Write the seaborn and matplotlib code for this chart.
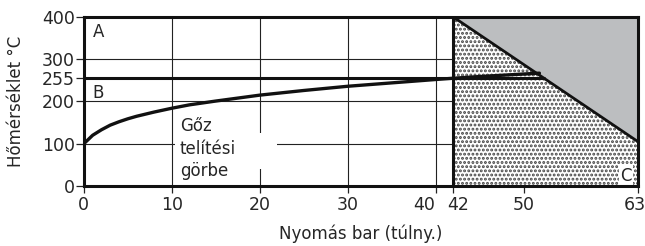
import matplotlib
matplotlib.use("Agg")
import matplotlib.pyplot as plt
import matplotlib.transforms as mtransforms
from matplotlib.patches import Polygon, Rectangle
import seaborn as sns
import pandas as pd

# --- data ---
pressure = [0, 1, 2, 3, 4, 5, 6, 8, 10, 12, 15, 20, 25, 30, 35, 40, 42, 45, 50, 51.8]
sat_temp = [100, 120, 133, 144, 152, 159, 165, 175, 184, 192, 201, 215, 226, 236, 244, 252, 255, 259, 265, 267]
limit_p = [42, 63]
limit_t = [400, 105]
x_ticks = [0, 10, 20, 30, 40, 42, 50, 63]
y_ticks = [0, 100, 200, 255, 300, 400]
grid_x = [10, 20, 30, 40]
grid_y = [100, 200, 300]
line_255 = 255
region_labels = ["A", "B", "C"]
curve_label = "Gőz\ntelítési\ngörbe"
xlabel = "Nyomás bar (túlny.)"
ylabel = "Hőmérséklet °C"

sns.set_theme(style="white")
plt.rcParams["font.family"] = ["DejaVu Sans"]
plt.rcParams["hatch.linewidth"] = 1.4

fig = plt.figure(figsize=(6.45, 2.46), dpi=100)
ax = fig.add_axes([0.130, 0.244, 0.859, 0.687])
ax.set_xlim(0, 63)
ax.set_ylim(0, 400)

# grid lines
for gx in grid_x:
    ax.plot([gx, gx], [0, 400], color="#222222", lw=0.8, zorder=1)
for gy in grid_y:
    ax.plot([0, 42], [gy, gy], color="#222222", lw=0.8, zorder=1)

# white box behind curve label
ax.add_patch(Rectangle((10.4, 40), 11.6, 85, facecolor="white", edgecolor="none", zorder=2))

# dotted region and grey region
x0, x1 = limit_p
t0, t1 = limit_t
ax.add_patch(Polygon([(x0, 0), (x0, t0), (x1, t1), (x1, 0)], closed=True,
                     facecolor="white", edgecolor="#444444", linewidth=0,
                     hatch="....", zorder=2))
ax.add_patch(Polygon([(x0, t0), (x1, 400), (x1, t1)], closed=True,
                     facecolor="#bcbec0", edgecolor="none", zorder=2))
ax.plot([x0, x1], [t0, t1], color="#111111", lw=2.0, zorder=4)
ax.plot([x0, x0], [0, 400], color="#111111", lw=2.2, zorder=4)

# 255 line (to the diagonal)
x_cross = x0 + (t0 - line_255) / (t0 - t1) * (x1 - x0)
ax.plot([0, x_cross], [line_255, line_255], color="#111111", lw=2.2, zorder=4)

# saturation curve
df = pd.DataFrame({"p": pressure, "t": sat_temp})
sns.lineplot(data=df, x="p", y="t", ax=ax, color="#111111", lw=2.4, zorder=5)

# texts
ax.text(1.0, 365, region_labels[0], fontsize=12, va="center", ha="left", zorder=6)
ax.text(1.0, 220, region_labels[1], fontsize=12, va="center", ha="left", zorder=6)
ax.text(62.3, 3, region_labels[2], fontsize=12, va="bottom", ha="right", zorder=6,
        bbox=dict(facecolor="white", edgecolor="none", pad=1.2))
ax.text(10.9, 164, curve_label, fontsize=12, va="top", ha="left", zorder=6, linespacing=1.35)

# axes styling
ax.set_xticks(x_ticks)
ax.set_yticks(y_ticks)
ax.set_xticklabels([str(v) for v in x_ticks], fontsize=12.5)
ax.set_yticklabels([str(v) for v in y_ticks], fontsize=12.5)
ax.tick_params(axis="x", direction="out", length=5, width=0.9, color="#222222",
               pad=2, bottom=True)
ax.tick_params(axis="y", direction="out", length=6, width=0.9, color="#222222",
               pad=0.5, left=True)
for s in ax.spines.values():
    s.set_color("#111111")
    s.set_linewidth(2.2)
    s.set_zorder(7)

labs = ax.get_xticklabels()
labs[4].set_horizontalalignment("right")
labs[4].set_transform(labs[4].get_transform() + mtransforms.ScaledTranslation(-0.01, 0, fig.dpi_scale_trans))
labs[5].set_horizontalalignment("left")
labs[5].set_transform(labs[5].get_transform() + mtransforms.ScaledTranslation(-0.06, 0, fig.dpi_scale_trans))
labs[7].set_transform(labs[7].get_transform() + mtransforms.ScaledTranslation(-0.03, 0, fig.dpi_scale_trans))

ax.set_xlabel(xlabel, fontsize=12, labelpad=8)
ax.set_ylabel(ylabel, fontsize=12, labelpad=12)

fig.savefig("out.png", dpi=100)
